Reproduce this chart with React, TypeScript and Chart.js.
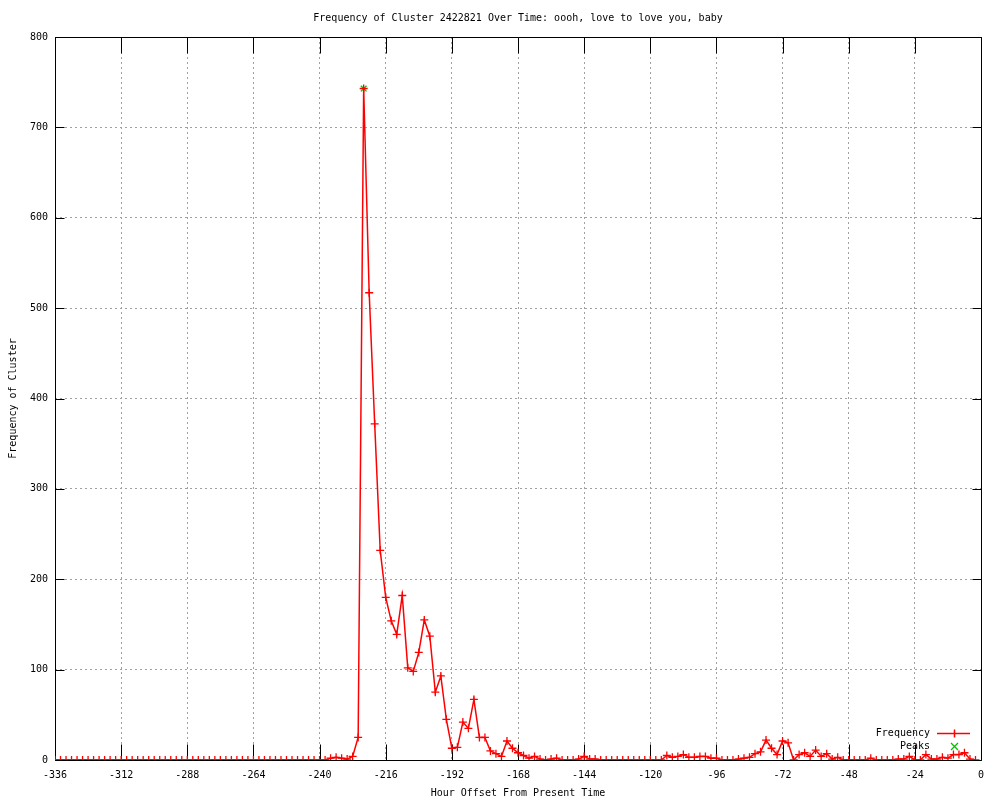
import { useEffect, useRef } from "react";
import { Chart, registerables } from "chart.js";

Chart.register(...registerables);

const TITLE = "Frequency of Cluster 2422821 Over Time: oooh, love to love you, baby";
const X_TITLE = "Hour Offset From Present Time";
const Y_TITLE = "Frequency of Cluster";
const FONT_FAMILY = '"DejaVu Sans Mono", "Liberation Mono", monospace';

const HOURS = [
  -336, -334, -332, -330, -328, -326, -324, -322, -320, -318, -316, -314, -312, -310, -308, -306, -304, -302, -300, -298,
  -296, -294, -292, -290, -288, -286, -284, -282, -280, -278, -276, -274, -272, -270, -268, -266, -264, -262, -260, -258,
  -256, -254, -252, -250, -248, -246, -244, -242, -240, -238, -236, -234, -232, -230, -228, -226, -224, -222, -220, -218,
  -216, -214, -212, -210, -208, -206, -204, -202, -200, -198, -196, -194, -192, -190, -188, -186, -184, -182, -180, -178,
  -176, -174, -172, -170, -168, -166, -164, -162, -160, -158, -156, -154, -152, -150, -148, -146, -144, -142, -140, -138,
  -136, -134, -132, -130, -128, -126, -124, -122, -120, -118, -116, -114, -112, -110, -108, -106, -104, -102, -100, -98,
  -96, -94, -92, -90, -88, -86, -84, -82, -80, -78, -76, -74, -72, -70, -68, -66, -64, -62, -60, -58,
  -56, -54, -52, -50, -48, -46, -44, -42, -40, -38, -36, -34, -32, -30, -28, -26, -24, -22, -20, -18,
  -16, -14, -12, -10, -8, -6, -4, -2,
];

const FREQUENCY = [
  0, 0, 0, 0, 0, 0, 0, 0, 0, 0, 0, 0, 0, 0, 0, 0, 0, 0, 0, 0,
  0, 0, 0, 0, 0, 0, 0, 0, 0, 0, 0, 0, 0, 0, 0, 0, 0, 0, 0, 0,
  0, 0, 0, 0, 0, 0, 0, 0, 0, 0, 2, 3, 2, 1, 4, 25, 743, 517, 372, 232,
  180, 154, 139, 182, 102, 98, 119, 155, 137, 75, 93, 45, 13, 14, 42, 35, 67, 25, 25, 10,
  7, 4, 21, 13, 8, 5, 2, 4, 1, 0, 1, 2, 0, 0, 0, 1, 4, 1, 1, 0,
  0, 0, 0, 0, 0, 0, 0, 0, 0, 0, 0, 5, 3, 4, 6, 3, 3, 4, 4, 2,
  2, 0, 0, 0, 1, 2, 3, 7, 9, 22, 13, 6, 21, 19, 0, 6, 8, 4, 11, 4,
  7, 1, 3, 0, 0, 0, 0, 0, 2, 0, 0, 0, 0, 1, 1, 4, 0, 0, 6, 1,
  1, 3, 2, 6, 6, 8, 1, 0,
];

const PEAK_HOURS = [-224];
const PEAK_VALUES = [743];

const X_TICKS = [-336, -312, -288, -264, -240, -216, -192, -168, -144, -120, -96, -72, -48, -24, 0];
const Y_TICKS = [0, 100, 200, 300, 400, 500, 600, 700, 800];

const framePlugin = {
  id: "gnuplotFrame",
  beforeDatasetsDraw(chart: any) {
    const { ctx, chartArea, scales } = chart;
    const l = Math.round(chartArea.left) + 0.5;
    const r = Math.round(chartArea.right) + 0.5;
    const t = Math.round(chartArea.top) + 0.5;
    const b = Math.round(chartArea.bottom) + 0.5;
    ctx.save();
    ctx.strokeStyle = "#000000";
    ctx.lineWidth = 1;
    ctx.setLineDash([]);
    ctx.beginPath();
    ctx.moveTo(l, t);
    ctx.lineTo(r, t);
    ctx.lineTo(r, b);
    ctx.lineTo(l, b);
    ctx.closePath();
    ctx.stroke();
    ctx.beginPath();
    X_TICKS.forEach((v) => {
      const px = Math.round(scales.x.getPixelForValue(v)) + 0.5;
      ctx.moveTo(px, b);
      ctx.lineTo(px, b - 16);
      ctx.moveTo(px, t);
      ctx.lineTo(px, t + 16);
    });
    Y_TICKS.forEach((v) => {
      const py = Math.round(scales.y.getPixelForValue(v)) + 0.5;
      ctx.moveTo(l, py);
      ctx.lineTo(l + 9, py);
      ctx.moveTo(r, py);
      ctx.lineTo(r - 9, py);
    });
    ctx.stroke();
    ctx.restore();
  },
  afterDatasetsDraw(chart: any) {
    const { ctx, chartArea } = chart;
    const textRight = Math.round(chartArea.right) - 51;
    const sampleL = Math.round(chartArea.right) - 44;
    const sampleR = Math.round(chartArea.right) - 11;
    const sampleC = Math.round((sampleL + sampleR) / 2) + 0.5;
    const y1 = 733.5;
    const y2 = 746.5;
    ctx.save();
    ctx.setLineDash([]);
    ctx.font = `10px ${FONT_FAMILY}`;
    ctx.fillStyle = "#000000";
    ctx.textAlign = "right";
    ctx.textBaseline = "middle";
    ctx.fillText("Frequency", textRight, y1);
    ctx.fillText("Peaks", textRight, y2);
    ctx.lineWidth = 1.5;
    ctx.strokeStyle = "#ff0000";
    ctx.beginPath();
    ctx.moveTo(sampleL, y1);
    ctx.lineTo(sampleR, y1);
    ctx.moveTo(sampleC, y1 - 4);
    ctx.lineTo(sampleC, y1 + 4);
    ctx.stroke();
    ctx.strokeStyle = "#00c000";
    ctx.lineWidth = 1.3;
    ctx.beginPath();
    ctx.moveTo(sampleC - 3.5, y2 - 3.5);
    ctx.lineTo(sampleC + 3.5, y2 + 3.5);
    ctx.moveTo(sampleC - 3.5, y2 + 3.5);
    ctx.lineTo(sampleC + 3.5, y2 - 3.5);
    ctx.stroke();
    ctx.restore();
  },
};

export default function App() {
  const canvasRef = useRef<HTMLCanvasElement | null>(null);

  useEffect(() => {
    document.body.style.margin = "0";
    const canvas = canvasRef.current;
    if (!canvas) return;
    const font = { family: FONT_FAMILY, size: 10, weight: "normal" as const };
    const chart = new Chart(canvas, {
      type: "line",
      data: {
        datasets: [
          {
            label: "Frequency",
            data: HOURS.map((h, i) => ({ x: h, y: FREQUENCY[i] })),
            borderColor: "#ff0000",
            backgroundColor: "#ff0000",
            borderWidth: 1.5,
            pointStyle: "cross",
            pointRadius: 4,
            pointBorderWidth: 1.3,
            pointBorderColor: "#ff0000",
            pointHoverRadius: 4,
            tension: 0,
            fill: false,
          },
          {
            label: "Peaks",
            data: PEAK_HOURS.map((h, i) => ({ x: h, y: PEAK_VALUES[i] })),
            showLine: false,
            borderColor: "#00c000",
            backgroundColor: "#00c000",
            pointStyle: "crossRot",
            pointRadius: 4,
            pointBorderWidth: 1.3,
            pointBorderColor: "#00c000",
            pointHoverRadius: 4,
          },
        ],
      },
      options: {
        responsive: false,
        animation: false,
        devicePixelRatio: 1,
        events: [],
        layout: { padding: { left: 0, right: 19, top: 0, bottom: 0 } },
        plugins: {
          legend: { display: false },
          tooltip: { enabled: false },
          title: {
            display: true,
            fullSize: false,
            text: TITLE,
            font,
            color: "#000000",
            padding: { top: 12, bottom: 13 },
          },
        },
        scales: {
          x: {
            type: "linear",
            min: -336,
            max: 0,
            afterFit: (s: any) => {
              s.height = 40;
            },
            afterBuildTicks: (s: any) => {
              s.ticks = X_TICKS.map((v) => ({ value: v }));
            },
            ticks: {
              font,
              color: "#000000",
              padding: 9,
              maxRotation: 0,
              autoSkip: false,
              callback: (v: any) => String(v),
            },
            grid: { color: "#a0a0a0", drawTicks: false, lineWidth: 1 },
            border: { display: false, dash: [2, 3] },
            title: {
              display: true,
              text: X_TITLE,
              font,
              color: "#000000",
              padding: { top: 0, bottom: 1 },
            },
          },
          y: {
            type: "linear",
            min: 0,
            max: 800,
            afterFit: (s: any) => {
              s.width = 55;
            },
            afterBuildTicks: (s: any) => {
              s.ticks = Y_TICKS.map((v) => ({ value: v }));
            },
            ticks: {
              font,
              color: "#000000",
              padding: 7,
              callback: (v: any) => String(v),
            },
            grid: { color: "#a0a0a0", drawTicks: false, lineWidth: 1 },
            border: { display: false, dash: [2, 3] },
            title: {
              display: true,
              text: Y_TITLE,
              font,
              color: "#000000",
              padding: { top: 7, bottom: 0 },
            },
          },
        },
      },
      plugins: [framePlugin],
    });
    return () => chart.destroy();
  }, []);

  return (
    <div style={{ position: "absolute", left: 0, top: 0, width: 1000, height: 800, background: "#ffffff" }}>
      <canvas ref={canvasRef} width={1000} height={800} style={{ display: "block" }} />
    </div>
  );
}
